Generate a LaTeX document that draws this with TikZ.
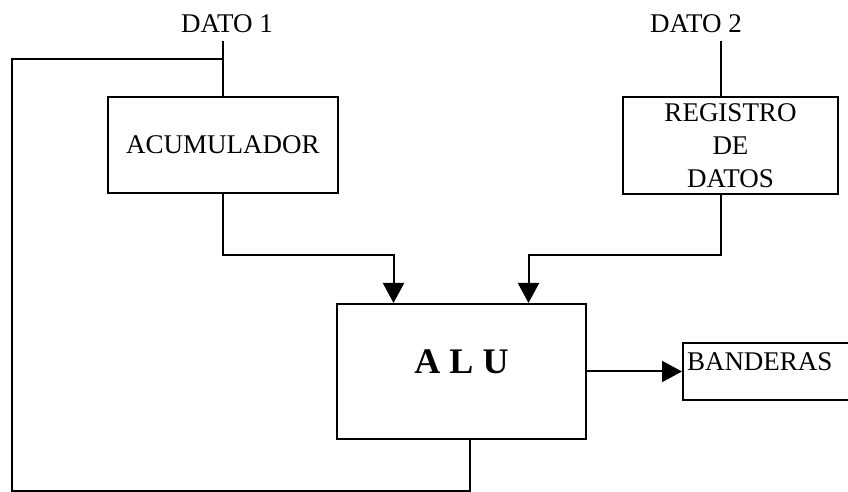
\documentclass[tikz,border=0pt]{standalone}
\usepackage{fontspec}
\setmainfont{Liberation Serif}
\usetikzlibrary{calc,arrows.meta}
\tikzset{
  ln/.style={line width=1pt},
  ar/.style={-{Triangle[length=10pt,width=10.5pt]},line width=1pt},
  box/.style={draw,line width=1pt,align=center,inner sep=0pt,font=\fontsize{13.5}{16.5}\selectfont},
  lbl/.style={font=\fontsize{13.5}{16.5}\selectfont,inner sep=4pt}
}

\begin{document}
\begin{tikzpicture}[x=0.5pt,y=-0.5pt]
\useasboundingbox (0,0) rectangle (848,492);
\clip (0,0) rectangle (848,492);
% entradas
\node[lbl] (d1) at (227,24) {DATO 1};
\node[lbl] (d2) at (696,24) {DATO 2};
% bloques
\node[box,minimum width=115pt,minimum height=48pt] (acum) at (223,145) {ACUMULADOR};
\node[box,minimum width=107.5pt,minimum height=48.5pt] (reg) at (730.5,145.5) {REGISTRO\\DE\\DATOS};
\node[box,minimum width=124.5pt,text height=35pt,text depth=32.5pt,font=\fontsize{18}{20}\selectfont\bfseries] (alu) at (461.5,371.5) {A L U};
\node[box,anchor=west,text width=105pt,align=left,inner xsep=2pt,text height=14pt,text depth=14.5pt] (band) at (682,371.5) {BANDERAS};
% puntos de union
\coordinate (regin) at ($(reg.north)+(-10,0)$);
\coordinate (regout) at ($(reg.south)+(-10,0)$);
\coordinate (ina) at ($(alu.north)+(-68,0)$);
\coordinate (inb) at ($(alu.north)+(67,0)$);
\coordinate (aout) at ($(alu.south)+(8,0)$);
\coordinate (tap) at (223,59);
\coordinate (lft) at (12,59);
% conexiones
\draw[ln] (d1.south -| acum.north) -- (acum.north);
\draw[ln] (d2.south -| regin) -- (regin);
\draw[ar] (acum.south) -- ++(0,61) -| (ina);
\draw[ar] (regout) -- ++(0,60) -| (inb);
\draw[ar] (alu.east) -- (band.west);
\draw[ln] (aout) -- ++(0,51) -| (lft) -- (tap);
\end{tikzpicture}
\end{document}
